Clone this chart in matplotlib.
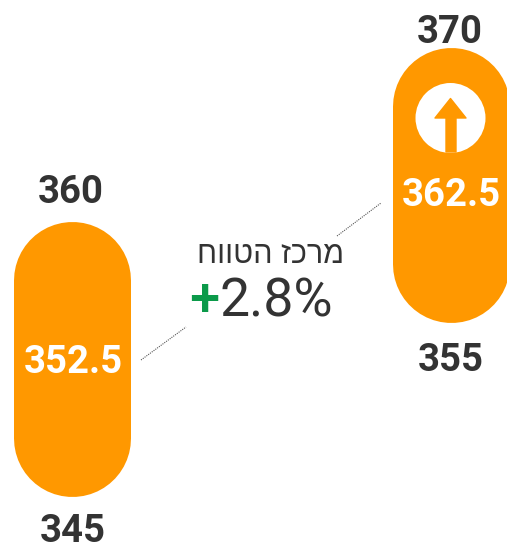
import matplotlib
matplotlib.use('Agg')
import matplotlib.pyplot as plt
from matplotlib.patches import Circle, Polygon

# range of each pill
lows = [345, 355]
highs = [360, 370]
mids = [352.5, 362.5]
mid_labels = ['352.5', '362.5']
low_labels = ['345', '355']
high_labels = ['360', '370']
title = 'מרכז הטווח'
change_sign = '+'
change = '2.8%'

ORANGE = '#FF9800'
DARK = '#333333'
GREEN = '#0B9A4A'
DPI = 100

plt.rcParams['font.family'] = ['Roboto', 'Liberation Sans', 'DejaVu Sans']

fig = plt.figure(figsize=(5.07, 5.44), dpi=DPI)

# value axis for the pills, x is in pixels
ax = fig.add_axes([0, 0, 1, 1])
ax.set_xlim(0, 507)
ax.set_ylim(341.957, 373.043)
ax.axis('off')

# pixel axis for icon, connector lines and the middle text
px = fig.add_axes([0, 0, 1, 1])
px.set_xlim(0, 507)
px.set_ylim(544, 0)
px.axis('off')
px.patch.set_alpha(0)

xs = [72, 450.5]
pill_w = 117
radius_val = (pill_w / 2) / 17.5
pad = 12.5 / 2 / 17.5
lw = pill_w * 72 / DPI

for x, lo, hi in zip(xs, lows, highs):
    ax.plot([x, x], [lo - pad + radius_val, hi + pad - radius_val], color=ORANGE,
            lw=lw, solid_capstyle='round')

label_kw = dict(ha='center', va='center', fontsize=27.5, fontweight='bold',
                textcoords='offset points', annotation_clip=False)
low_off = [-40.5 * 0.72, -44.5 * 0.72]
high_off = [36 * .72, 21 * .72]
mid_off = [-3 * .72, -11 * .72]
high_dx = [-1.5, -0.5]
for i, x in enumerate(xs):
    ax.annotate(low_labels[i], (x + 0.5, lows[i]), xytext=(0, low_off[i]), color=DARK, **label_kw)
    ax.annotate(high_labels[i], (x + high_dx[i], highs[i]), xytext=(0, high_off[i]), color=DARK, **label_kw)
    ax.annotate(mid_labels[i], (x + 1, mids[i]), xytext=(0, mid_off[i]), color='white', **label_kw)

# up arrow icon
px.add_patch(Circle((450.5, 118), 35, fc='white', ec='none'))
px.add_patch(Polygon([(450.5, 98.5), (466, 118), (456, 118), (456, 152), (446, 152),
                      (446, 118), (435, 118)], closed=True, fc=ORANGE, ec=ORANGE,
                     lw=1, joinstyle='round'))

# connector lines
px.plot([141, 186], [360, 327], color='#555555', lw=0.8, ls=(0, (1, 1)))
px.plot([337, 381], [236, 203], color='#555555', lw=0.8, ls=(0, (1, 1)))

# hebrew is drawn left to right by matplotlib, so reverse it
px.text(270.5, 255, title[::-1], ha='center', va='center', fontsize=22, color=DARK,
        family=['Liberation Sans', 'DejaVu Sans'])
px.text(204.5, 301, change_sign, ha='center', va='center', fontsize=39, color=GREEN,
        fontweight='medium')
px.text(276.5, 302, change, ha='center', va='center', fontsize=38.5, color=DARK)

fig.savefig('out.png', dpi=DPI)
